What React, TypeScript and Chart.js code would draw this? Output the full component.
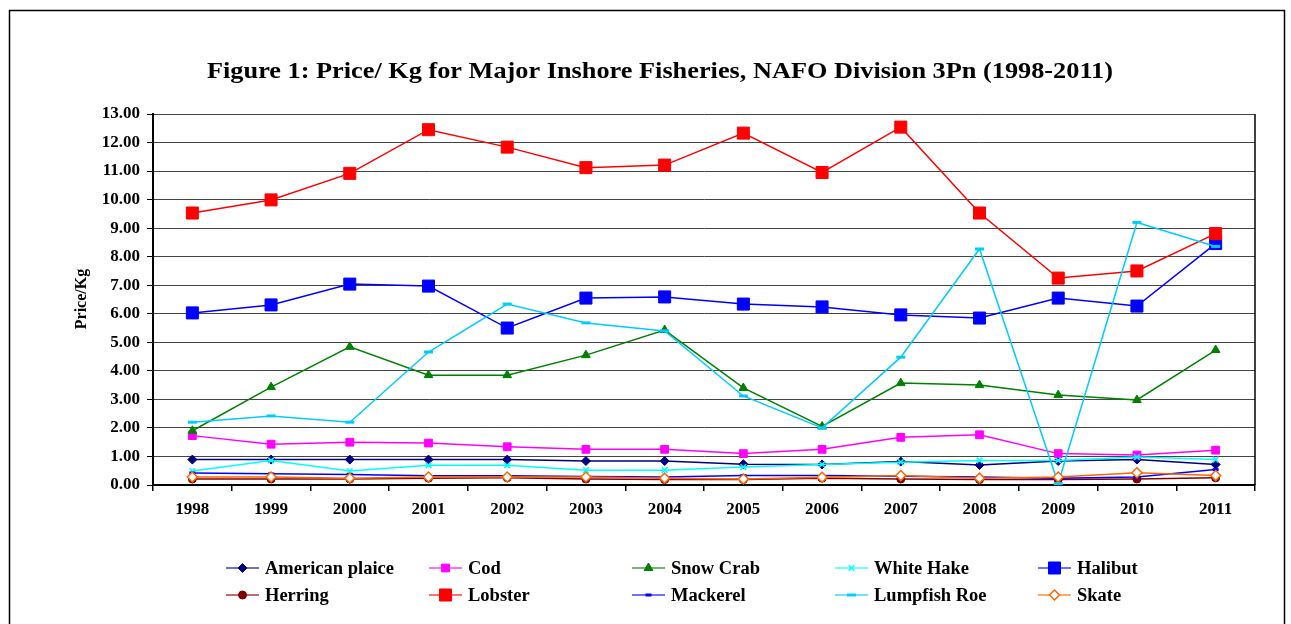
import React, { useEffect, useRef } from "react";
import { Chart, registerables } from "chart.js";

Chart.register(...registerables);

const TITLE = "Figure 1: Price/ Kg for Major Inshore Fisheries, NAFO Division 3Pn (1998-2011)";
const Y_TITLE = "Price/Kg";

const years = ["1998", "1999", "2000", "2001", "2002", "2003", "2004", "2005", "2006", "2007", "2008", "2009", "2010", "2011"];

const americanPlaice = [0.89, 0.89, 0.89, 0.89, 0.89, 0.84, 0.84, 0.73, 0.72, 0.82, 0.7, 0.84, 0.89, 0.72];
const cod = [1.73, 1.43, 1.5, 1.47, 1.34, 1.25, 1.25, 1.1, 1.25, 1.67, 1.76, 1.1, 1.05, 1.22];
const snowCrab = [1.9, 3.43, 4.84, 3.85, 3.85, 4.55, 5.43, 3.4, 2.05, 3.57, 3.5, 3.15, 2.98, 4.73];
const whiteHake = [0.49, 0.86, 0.49, 0.69, 0.69, 0.52, 0.52, 0.63, 0.72, 0.8, 0.86, 0.86, 0.98, 0.89];
const halibut = [6.03, 6.31, 7.04, 6.97, 5.5, 6.55, 6.59, 6.34, 6.24, 5.96, 5.85, 6.55, 6.27, 8.46];
const herring = [0.21, 0.21, 0.21, 0.24, 0.25, 0.21, 0.19, 0.19, 0.24, 0.21, 0.19, 0.19, 0.21, 0.25];
const lobster = [9.53, 9.99, 10.92, 12.45, 11.84, 11.12, 11.21, 12.33, 10.95, 12.54, 9.53, 7.25, 7.5, 8.81];
const mackerel = [0.42, 0.39, 0.37, 0.32, 0.32, 0.3, 0.28, 0.33, 0.33, 0.31, 0.28, 0.24, 0.28, 0.54];
const lumpfishRoe = [2.2, 2.42, 2.2, 4.66, 6.34, 5.68, 5.4, 3.12, 2.0, 4.48, 8.27, 0.05, 9.2, 8.36];
const skate = [0.28, 0.28, 0.24, 0.28, 0.28, 0.28, 0.24, 0.21, 0.27, 0.33, 0.24, 0.28, 0.43, 0.33];

type SeriesDef = {
  label: string;
  data: number[];
  color: string;
  fill: string;
  style: string;
  r: number;
  bw: number;
};

const seriesDefs: SeriesDef[] = [
  { label: "American plaice", data: americanPlaice, color: "#000080", fill: "#000080", style: "rectRot", r: 4.5, bw: 1 },
  { label: "Cod", data: cod, color: "#FF00FF", fill: "#FF00FF", style: "rect", r: 5.5, bw: 1 },
  { label: "Snow Crab", data: snowCrab, color: "#008000", fill: "#008000", style: "triangle", r: 5, bw: 1 },
  { label: "White Hake", data: whiteHake, color: "#00FFFF", fill: "#00FFFF", style: "crossRot", r: 4, bw: 1.5 },
  { label: "Halibut", data: halibut, color: "#0000FF", fill: "#0000FF", style: "rect", r: 8.5, bw: 1 },
  { label: "Herring", data: herring, color: "#800000", fill: "#800000", style: "circle", r: 4, bw: 1 },
  { label: "Lobster", data: lobster, color: "#FF0000", fill: "#FF0000", style: "rect", r: 8.5, bw: 1 },
  { label: "Mackerel", data: mackerel, color: "#0000FF", fill: "#0000FF", style: "line", r: 3, bw: 3 },
  { label: "Lumpfish Roe", data: lumpfishRoe, color: "#00CCFF", fill: "#00CCFF", style: "line", r: 4.5, bw: 3 },
  { label: "Skate", data: skate, color: "#FF6600", fill: "#FFFFFF", style: "rectRot", r: 5, bw: 1.5 },
];

const FAMILY = '"Liberation Serif", "Times New Roman", serif';

function drawMarker(ctx: CanvasRenderingContext2D, s: SeriesDef, x: number, y: number) {
  const r = s.r;
  ctx.save();
  ctx.fillStyle = s.fill;
  ctx.strokeStyle = s.color;
  ctx.lineWidth = s.bw;
  ctx.beginPath();
  switch (s.style) {
    case "rect": {
      const h = Math.SQRT1_2 * r;
      ctx.rect(x - h, y - h, 2 * h, 2 * h);
      ctx.fill();
      ctx.stroke();
      break;
    }
    case "rectRot":
      ctx.moveTo(x - r, y);
      ctx.lineTo(x, y - r);
      ctx.lineTo(x + r, y);
      ctx.lineTo(x, y + r);
      ctx.closePath();
      ctx.fill();
      ctx.stroke();
      break;
    case "triangle": {
      const h = (r * 3) / Math.sqrt(3);
      ctx.moveTo(x, y - r);
      ctx.lineTo(x + h / 2, y + r / 2);
      ctx.lineTo(x - h / 2, y + r / 2);
      ctx.closePath();
      ctx.fill();
      ctx.stroke();
      break;
    }
    case "crossRot": {
      const d = r * Math.SQRT1_2;
      ctx.moveTo(x - d, y - d);
      ctx.lineTo(x + d, y + d);
      ctx.moveTo(x - d, y + d);
      ctx.lineTo(x + d, y - d);
      ctx.stroke();
      break;
    }
    case "circle":
      ctx.arc(x, y, r, 0, Math.PI * 2);
      ctx.fill();
      ctx.stroke();
      break;
    case "line":
      ctx.moveTo(x - r, y);
      ctx.lineTo(x + r, y);
      ctx.stroke();
      break;
  }
  ctx.restore();
}

const legendCols = [226, 429, 632, 835, 1038];
const legendRows = [568, 595];

function stretchedText(ctx: CanvasRenderingContext2D, text: string, cx: number, y: number, targetWidth: number) {
  const w = ctx.measureText(text).width;
  const k = w > 0 ? targetWidth / w : 1;
  ctx.save();
  ctx.translate(cx, y);
  ctx.scale(k, 1);
  ctx.textAlign = "center";
  ctx.fillText(text, 0, 0);
  ctx.restore();
}

const decorPlugin = {
  id: "decor",
  beforeDraw(chart: any) {
    const ctx = chart.ctx as CanvasRenderingContext2D;
    ctx.save();
    ctx.fillStyle = "#FFFFFF";
    ctx.fillRect(0, 0, chart.width, chart.height);
    ctx.restore();
  },
  afterDraw(chart: any) {
    const ctx = chart.ctx as CanvasRenderingContext2D;
    const area = chart.chartArea;
    ctx.save();
    // outer frame
    ctx.strokeStyle = "#000";
    ctx.lineWidth = 1.5;
    ctx.strokeRect(9.5, 10.5, 1275, 700);
    // plot right border
    ctx.beginPath();
    ctx.lineWidth = 1.5;
    ctx.moveTo(area.right, area.top);
    ctx.lineTo(area.right, area.bottom);
    ctx.stroke();
    // title
    ctx.fillStyle = "#000";
    ctx.font = "bold 24px " + FAMILY;
    ctx.textBaseline = "alphabetic";
    stretchedText(ctx, TITLE, 660, 78, 906);
    // y title
    ctx.save();
    ctx.translate(82, 299);
    ctx.rotate(-Math.PI / 2);
    ctx.font = "bold 16px " + FAMILY;
    ctx.textAlign = "center";
    ctx.textBaseline = "middle";
    ctx.fillText(Y_TITLE, 0, 0);
    ctx.restore();
    // legend
    ctx.font = "bold 18.5px " + FAMILY;
    ctx.textAlign = "left";
    ctx.textBaseline = "middle";
    seriesDefs.forEach((s, i) => {
      const col = i % 5;
      const row = Math.floor(i / 5);
      const x0 = legendCols[col];
      const y = legendRows[row];
      ctx.save();
      ctx.strokeStyle = s.color;
      ctx.globalAlpha = 0.75;
      ctx.lineWidth = 1.5;
      ctx.beginPath();
      ctx.moveTo(x0, y);
      ctx.lineTo(x0 + 33, y);
      ctx.stroke();
      ctx.restore();
      drawMarker(ctx, s, x0 + 16.5, y);
      ctx.fillStyle = "#000";
      ctx.fillText(s.label, x0 + 39, y + 1);
    });
    ctx.restore();
  },
};

export default function App() {
  const ref = useRef<HTMLCanvasElement | null>(null);

  useEffect(() => {
    const canvas = ref.current;
    if (!canvas) return;
    const tickFont = { family: FAMILY, size: 17, weight: "bold" as const };
    const chart = new Chart(canvas, {
      type: "line",
      data: {
        labels: years,
        datasets: seriesDefs.map((s, i) => ({
          label: s.label,
          data: s.data,
          borderColor: s.color,
          backgroundColor: s.fill,
          borderWidth: 1.5,
          pointStyle: s.style as any,
          pointRadius: s.r,
          pointBorderWidth: s.bw,
          pointBackgroundColor: s.fill,
          pointBorderColor: s.color,
          tension: 0,
          fill: false,
          order: seriesDefs.length - i,
          clip: false as any,
        })),
      },
      options: {
        responsive: false,
        animation: false,
        devicePixelRatio: 1,
        events: [],
        layout: { padding: { left: 0, top: 114, right: 36, bottom: 0 } },
        plugins: {
          legend: { display: false },
          title: { display: false },
          tooltip: { enabled: false },
        },
        scales: {
          x: {
            offset: true,
            grid: {
              offset: true,
              drawOnChartArea: false,
              drawTicks: true,
              tickLength: 6,
              color: "#000",
              lineWidth: 1.5,
            },
            border: { display: true, color: "#000", width: 2 },
            ticks: { color: "#000", font: tickFont, padding: 8, maxRotation: 0, autoSkip: false },
            afterFit: (s: any) => {
              s.height = 139;
            },
          },
          y: {
            min: 0,
            max: 13,
            ticks: {
              stepSize: 1,
              callback: (v: any) => Number(v).toFixed(2),
              color: "#000",
              font: tickFont,
              padding: 7,
            },
            grid: { color: "#444", lineWidth: 1, tickLength: 6, drawTicks: true, tickColor: "#000" },
            border: { display: true, color: "#000", width: 2 },
            afterFit: (s: any) => {
              s.width = 153;
            },
          },
        },
      },
      plugins: [decorPlugin],
    });
    return () => chart.destroy();
  }, []);

  return (
    <div style={{ position: "fixed", left: 0, top: 0, width: 1291, height: 624, background: "#fff" }}>
      <canvas ref={ref} width={1291} height={624} style={{ display: "block", width: 1291, height: 624 }} />
    </div>
  );
}
